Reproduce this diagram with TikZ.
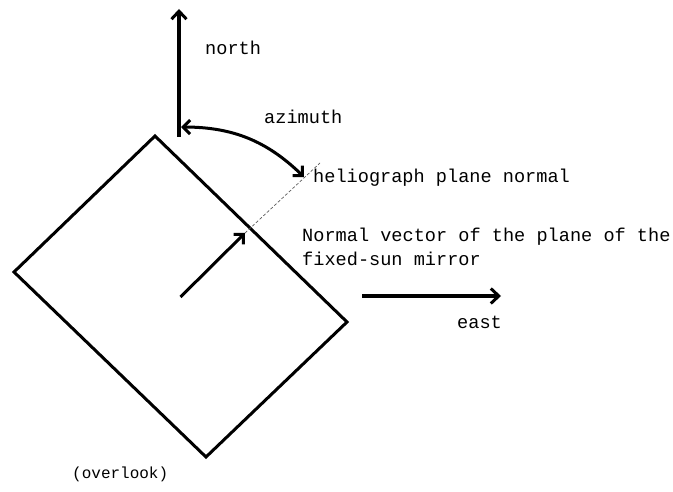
\documentclass[tikz,border=0pt]{standalone}
\usepackage{fontspec}
\setmonofont{Liberation Mono}
\usetikzlibrary{arrows.meta}
\tikzset{
	lbl/.style={anchor=west, inner sep=0pt, font=\ttfamily\fontsize{18.6}{24}\selectfont, align=left},
	bigarrow/.style={line width=4.5pt, -{Straight Barb[length=8pt,width=15pt,line width=3pt]}},
	thinarrow/.style={line width=3pt, -{Straight Barb[length=7pt,width=14pt,line width=3pt]}}
}
\begin{document}
\begin{tikzpicture}[x=1pt,y=1pt]
		\useasboundingbox (0,0) rectangle (673,491);

		% mirror seen from above
		\coordinate (top) at (155,355);
		\coordinate (left) at (14,219);
		\coordinate (bottom) at (206,34);
		\coordinate (right) at (347,169);
		\draw[line width=3pt, line join=miter] (top) -- (left) -- (bottom) -- (right) -- cycle;

		\coordinate (mid) at (180.5,194);
		\coordinate (tip) at (245,258);
		\coordinate (far) at (320,328);
		\coordinate (nfoot) at (179,354);
		\coordinate (nhead) at (179,482);
		\coordinate (azstart) at (181,364);
		\coordinate (azend) at (304,314);
		\coordinate (efoot) at (362,195);
		\coordinate (ehead) at (501,195);

		\node[lbl] (north) at (205,443) {north};
		\node[lbl] (azimuth) at (264,374) {azimuth};
		\node[lbl] (helio) at (313,313) {heliograph plane normal};
		\node[lbl] (normal) at (302,244) {Normal vector of the plane of the\\fixed-sun mirror};
		\node[lbl] (east) at (457,169) {east};
		\node[lbl, font=\ttfamily\fontsize{16}{20}\selectfont] (overlook) at (72,17) {(overlook)};

		\draw[bigarrow] (nfoot) -- (nhead);
		\draw[bigarrow] (efoot) -- (ehead);
		\draw[thinarrow] (mid) -- (tip);
		\draw[densely dashed, line width=0.7pt, gray!70!black] (tip) -- (far);
		\draw[line width=3pt, {Straight Barb[length=7pt,width=14pt,line width=3pt]}-{Straight Barb[length=7pt,width=14pt,line width=3pt]}] (azstart) to[bend left=22] (azend);
	\end{tikzpicture}
\end{document}
